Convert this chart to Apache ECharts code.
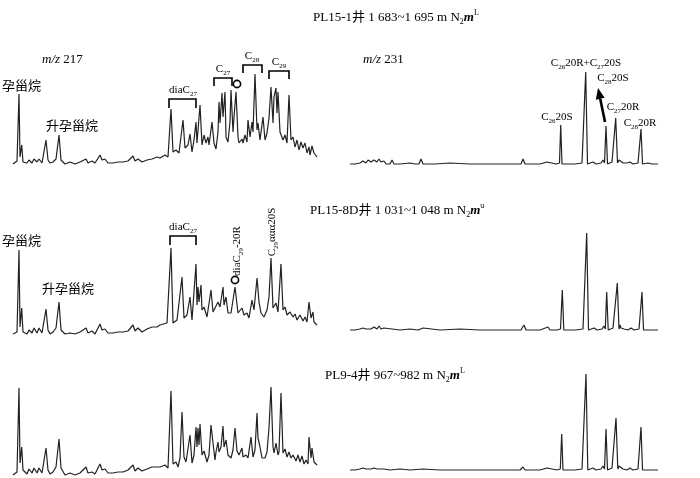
<!DOCTYPE html>
<html><head><meta charset="utf-8">
<script src="https://cdn.jsdelivr.net/npm/echarts@6/dist/echarts.min.js"></script>
<style>html,body{margin:0;padding:0;background:#fff}#c{width:700px;height:478px}</style>
</head><body><div id="c"></div><script>
// ---- text ----
const wellTitles = [
  '{a|PL15-1井 1 683~1 695 m N}{s|2}{b|m}{p|L}',
  '{a|PL15-8D井 1 031~1 048 m N}{s|2}{b|m}{p|u}',
  '{a|PL9-4井 967~982 m N}{s|2}{b|m}{p|L}'
];
const ionLabels = ['{i|m/z}{a| 217}', '{i|m/z}{a| 231}'];
const compoundLabels = ['孕甾烷', '升孕甾烷'];
const groupLabels = ['{a|diaC}{s|27}', '{a|C}{s|27}', '{a|C}{s|28}', '{a|C}{s|29}'];
const peakLabels231 = ['{a|C}{s|26}{a|20R+C}{s|27}{a|20S}', '{a|C}{s|28}{a|20S}', '{a|C}{s|27}{a|20R}', '{a|C}{s|26}{a|20S}', '{a|C}{s|28}{a|20R}'];
const rotLabels = ['{a|diaC}{s|29}{a|-20R}', '{a|C}{s|29}{a|ααα20S}'];

// ---- traces: [retention index, relative intensity] ----
const pL1 = [[13,1],[17,4],[19,71],[20,8],[21.7,20],[23,3],[27,2],[29,5],[32,2],[34,6],[37,3],[39,6],[42,2],[46,25],[48,5],[50,2],[53,3],[56,6],[59,30],[61,5],[65,1],[70,3],[75,1],[80,3],[86,6],[88,2],[92,4],[95,2],[100,10],[102,5],[105,6],[108,2],[113,2],[118,3],[123,3],[128,4],[133,9],[135,4],[138,6],[142,3],[147,5],[152,6],[157,8],
[160,7],[165,10],[168,8],[171,56],[173,13],[176,15],[179,12],[183,45],[185,17],[188,20],[190,31],[192,13],[194,25],[196,43],[197,22],[200,60],[202,20],[204,30],[206,22],[208,28],[209,20],[212,43],[214,22],[216,16],[218,33],[219,63],[220,42],[222,72],[223,48],[225,73],[226,28],[228,23],[230,43],[231,75],[233,33],[234,48],[236,73],[238,28],[239,22],[242,26],[243,22],[245,30],[247,23],[248,45],[250,28],[252,43],[253,33],[255,91],[257,35],[258,42],[260,25],[263,48],[265,25],[267,32],[269,47],[271,78],[273,42],[274,68],[276,77],[277,52],[278,73],[280,33],[283,25],[285,30],[287,22],[289,70],[291,25],[293,28],[295,18],[297,25],[299,15],[301,23],[303,17],[305,22],[307,12],[309,18],[310,10],[312,19],[314,12],[315,13],[317,8]];

const pR1 = [[350,1],[355,1],[360,2],[363,4],[366,2],[368,5],[371,3],[374,5],[377,3],[379,6],[381,3],[384,4],[386,1],[390,1],[392,5],[394,1],[400,1],[410,2],[415,1],[419,1],[421,6],[423,1],[435,1],[450,2],[470,1],[490,1],[510,1],[521,1],[523,6],[525,1],[540,1],[547,3],[549,1],[556,1],[558,3],[559.5,2],[560.7,40],[562,1],[575,1],[582,2],[584,1],[585.7,93],[587.5,1],[593,3],[596,1],[601,2],[603,5],[604.5,2],[606,39],[607.5,1],[612,3],[614,2],[615.7,47],[617.5,2],[619,5],[620,3],[621,6],[623,2],[627,2],[630,3],[633,1],[638,2],[641,36],[642.5,1],[648,2],[652,1],[658,1]];

const pL2 = [[13,1],[17,3],[19,85],[20,8],[21.7,27],[23,3],[27,1],[29,5],[32,2],[34,7],[37,2],[39,7],[42,2],[46,26],[48,5],[50,1],[53,3],[56,7],[59,33],[61,5],[65,1],[70,2],[75,1],[80,3],[86,7],[88,2],[92,4],[95,1],[100,11],[102,5],[105,6],[108,2],[113,2],[118,3],[123,3],[128,4],[133,10],[135,4],[138,7],[142,3],[147,6],[152,8],[157,8],
[160,10],[167,12],[171,87],[173,12],[177,15],[179,13],[182,58],[184,17],[187,20],[190,38],[192,15],[196,71],[197,30],[198,48],[199,33],[201,50],[202,25],[204,28],[207,18],[211,45],[213,23],[215,27],[218,33],[220,28],[223,48],[224,30],[226,38],[228,22],[231,22],[235,48],[238,22],[242,27],[244,20],[247,22],[249,17],[252,35],[254,25],[257,57],[259,33],[261,22],[264,18],[267,25],[269,38],[271,77],[273,27],[276,32],[278,23],[281,71],[283,25],[285,28],[287,20],[290,23],[293,18],[295,21],[297,15],[300,20],[303,14],[305,18],[307,13],[309,33],[311,17],[313,23],[314,13],[317,10]];

const pR2 = [[350,1],[355,1],[360,2],[363,3],[366,2],[368,4],[371,2],[374,4],[377,2],[379,5],[381,2],[384,3],[386,1],[392,2],[400,1],[410,2],[418,1],[423,3],[425,1],[440,1],[460,2],[480,1],[500,1],[521,1],[524,6],[526,1],[540,1],[548,4],[550,1],[557,1],[559,3],[560.5,2],[562.3,41],[563.8,1],[575,1],[583,2],[585,1],[586.7,98],[588.5,1],[594,3],[597,1],[602,2],[604,5],[605.3,2],[606.7,39],[608.2,1],[613,3],[615,2],[617.3,48],[619,2],[620,6],[621,3],[622,5],[624,2],[628,1],[631,3],[634,1],[639,2],[642,39],[643.5,1],[650,1],[658,1]];

const pL3 = [[13,1],[17,4],[19,88],[20,13],[21.7,29],[23,6],[27,2],[29,7],[32,3],[34,8],[37,3],[39,8],[42,3],[46,28],[48,6],[50,2],[53,4],[56,9],[59,37],[61,8],[65,1],[70,3],[75,1],[80,3],[86,9],[88,3],[92,4],[95,2],[100,12],[102,6],[105,7],[108,3],[113,3],[118,4],[123,4],[128,6],[133,11],[135,5],[138,8],[142,5],[147,7],[152,9],[157,9],
[160,9],[165,11],[168,8],[171,85],[173,12],[176,14],[178,9],[180,18],[182,64],[184,19],[186,14],[190,41],[192,13],[194,21],[196,49],[197,29],[198,48],[199,31],[200,52],[202,21],[204,25],[207,14],[209,21],[211,51],[213,33],[215,16],[216,24],[218,34],[219,24],[221,29],[223,50],[224,29],[226,36],[228,21],[231,18],[233,26],[235,48],[237,25],[239,21],[242,28],[243,19],[246,21],[248,18],[251,39],[253,19],[255,26],[257,63],[258,38],[260,29],[262,18],[265,18],[267,24],[269,48],[271,89],[273,29],[274,23],[276,33],[278,21],[279,24],[281,83],[283,23],[285,27],[287,19],[289,24],[291,18],[293,21],[296,15],[298,21],[300,14],[302,20],[304,12],[306,16],[308,12],[309,39],[311,18],[312,28],[314,14],[315,15],[317,11]];

const pR3 = [[350,1],[355,1],[360,2],[363,3],[366,2],[368,3],[371,2],[374,3],[377,2],[379,4],[381,2],[384,2],[390,1],[400,2],[410,1],[423,2],[425,1],[440,1],[460,1],[480,1],[500,1],[520,1],[523,4],[525,1],[540,1],[547,3],[549,1],[557,1],[559,3],[560.3,2],[561.7,37],[563,1],[575,1],[582,2],[584,1],[586,97],[587.8,1],[593,3],[596,1],[601,2],[603,5],[604.5,2],[606,42],[607.5,1],[612,3],[614,2],[616,53],[617.8,2],[619,5],[620,3],[621,6],[623,2],[627,1],[630,3],[633,1],[638,2],[641,44],[642.5,1],[650,1],[658,1]];

const traces = [pL1, pR1, pL2, pR2, pL3, pR3];

// ---- styling ----
const F = "'Liberation Serif','Noto Sans CJK SC',serif";
function rich(fs) {
  const sub = Math.round(fs * 0.62);
  const base = {fontFamily: F, fill: '#000', color: '#000'};
  return {
    a: Object.assign({fontSize: fs, lineHeight: fs + 4}, base),
    i: Object.assign({fontSize: fs, lineHeight: fs + 4, fontStyle: 'italic'}, base),
    b: Object.assign({fontSize: fs, lineHeight: fs + 4, fontStyle: 'italic', fontWeight: 'bold'}, base),
    s: Object.assign({fontSize: sub, lineHeight: sub, verticalAlign: 'bottom'}, base),
    p: Object.assign({fontSize: sub, lineHeight: sub, verticalAlign: 'top'}, base)
  };
}

const grids = [
  {left: 13, top: 65, width: 304, height: 100},
  {left: 350, top: 65, width: 308, height: 100},
  {left: 13, top: 235, width: 304, height: 100},
  {left: 350, top: 231, width: 308, height: 100},
  {left: 13, top: 376, width: 304, height: 100},
  {left: 350, top: 371, width: 308, height: 100}
];

// annotation element builders (data coordinates)
function T(x, y, text, fs, align, rot) { return {k: 't', x, y, text, fs, align: align || 'center', rot: rot || 0}; }
function B(x1, x2, y, leg) { return {k: 'b', x1, x2, y, leg}; }
function O(x, y) { return {k: 'o', x, y}; }
function A(x1, y1, x2, y2) { return {k: 'a', x1, y1, x2, y2}; }

const annotations = {
  0: [
    T(42, 105, ionLabels[0], 13, 'left'),
    T(2, 78, compoundLabels[0], 13, 'left'),
    T(46, 38, compoundLabels[1], 13, 'left'),
    B(169, 196, 66, 9), T(183, 75, groupLabels[0], 11),
    B(214, 232, 87, 8), T(223, 96, groupLabels[1], 11),
    O(237, 81),
    B(243, 262, 100, 8), T(252, 109, groupLabels[2], 11),
    B(269, 289, 94, 8), T(279, 103, groupLabels[3], 11)
  ],
  1: [
    T(363, 105, ionLabels[1], 13, 'left'),
    T(586, 102, peakLabels231[0], 11),
    T(613, 87, peakLabels231[1], 11),
    A(605, 43, 598, 77),
    T(623, 58, peakLabels231[2], 11),
    T(557, 48, peakLabels231[3], 11),
    T(640, 42, peakLabels231[4], 11)
  ],
  2: [
    T(2, 93, compoundLabels[0], 13, 'left'),
    T(42, 45, compoundLabels[1], 13, 'left'),
    B(170, 196, 99, 9), T(183, 108, groupLabels[0], 11),
    O(235, 55),
    T(237, 84, rotLabels[0], 11, 'center', Math.PI / 2),
    T(272, 103, rotLabels[1], 11, 'center', Math.PI / 2)
  ]
};

function build(it, api) {
  if (it.k === 't') {
    const p = api.coord([it.x, it.y]);
    return {type: 'text', x: p[0], y: p[1], rotation: it.rot,
      style: {text: it.text, rich: rich(it.fs), fontSize: it.fs, fontFamily: F, fill: '#000',
        align: it.align, textAlign: it.align, verticalAlign: 'middle', textVerticalAlign: 'middle'}};
  }
  if (it.k === 'b') {
    const pts = [[it.x1, it.y - it.leg], [it.x1, it.y], [it.x2, it.y], [it.x2, it.y - it.leg]].map(d => api.coord(d));
    return {type: 'polyline', shape: {points: pts}, style: {stroke: '#000', lineWidth: 1.6, fill: null}};
  }
  if (it.k === 'o') {
    const p = api.coord([it.x, it.y]);
    return {type: 'circle', shape: {cx: p[0], cy: p[1], r: 3.6}, style: {fill: '#fff', stroke: '#000', lineWidth: 1.6}};
  }
  if (it.k === 'a') {
    const p1 = api.coord([it.x1, it.y1]), p2 = api.coord([it.x2, it.y2]);
    const dx = p2[0] - p1[0], dy = p2[1] - p1[1], L = Math.hypot(dx, dy);
    const ux = dx / L, uy = dy / L, nx = -uy, ny = ux;
    const bx = p2[0] - ux * 11, by = p2[1] - uy * 11;
    return {type: 'group', children: [
      {type: 'line', shape: {x1: p1[0], y1: p1[1], x2: bx, y2: by}, style: {stroke: '#000', lineWidth: 2.6}},
      {type: 'polygon', shape: {points: [[p2[0], p2[1]], [bx + nx * 4.5, by + ny * 4.5], [bx - nx * 4.5, by - ny * 4.5]]}, style: {fill: '#000'}}
    ]};
  }
}

const series = [];
traces.forEach((d, i) => {
  series.push({type: 'line', xAxisIndex: i, yAxisIndex: i, data: d, showSymbol: false, symbol: 'none',
    lineStyle: {color: '#222', width: 1.2}, silent: true, animation: false});
});
Object.keys(annotations).forEach(k => {
  const i = +k;
  series.push({type: 'custom', xAxisIndex: i, yAxisIndex: i, clip: false, silent: true, animation: false, z: 5,
    data: [[i % 2 ? 350 : 13, 0]],
    renderItem: (params, api) => ({type: 'group', children: annotations[i].map(it => build(it, api))})});
});

const titleTops = [9, 202, 367];
const titleLefts = [313, 310, 325];
const chart = echarts.init(document.getElementById('c'), null, {renderer: 'canvas'});
chart.setOption({
  backgroundColor: '#fff',
  animation: false,
  title: wellTitles.map((t, i) => ({text: t, left: titleLefts[i], top: titleTops[i], padding: 0,
    textStyle: {fontSize: 13, fontFamily: F, fontWeight: 'normal', color: '#000', rich: rich(13)}})),
  grid: grids,
  xAxis: grids.map((g, i) => ({type: 'value', gridIndex: i, min: i % 2 ? 350 : 13, max: i % 2 ? 658 : 317, show: false})),
  yAxis: grids.map((g, i) => ({type: 'value', gridIndex: i, min: 0, max: 100, show: false})),
  series
});
</script></body></html>
